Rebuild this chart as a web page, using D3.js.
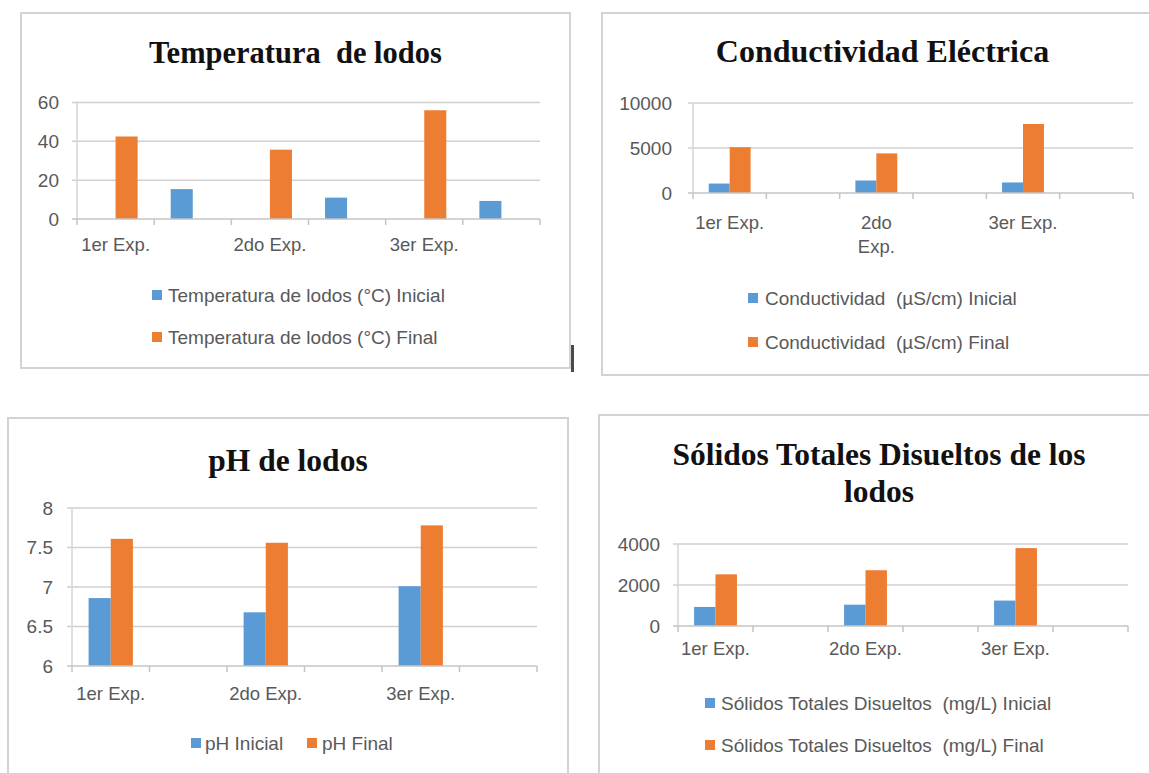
<!DOCTYPE html>
<html>
<head>
<meta charset="utf-8">
<script src="https://cdn.jsdelivr.net/npm/d3@7"></script>
<style>
  html, body { margin: 0; padding: 0; background: #fff; }
  svg { display: block; }
  .pre { white-space: pre; }
</style>
</head>
<body>
<svg id="chart" width="1149" height="773"></svg>
<script>
// Experiment categories: each experiment takes two category slots on the axis
const expLabels = ["1er Exp.", "", "2do Exp.", "", "3er Exp.", ""];

// Temperatura de lodos (°C)
const tempSeries = ["Temperatura de lodos (°C) Inicial", "Temperatura de lodos (°C) Final"];
const tempInicial = [null, 15.4, null, 11.0, null, 9.3];
const tempFinal = [42.5, null, 35.7, null, 56.0, null];
const tempTicks = [0, 20, 40, 60];

// Conductividad eléctrica (µS/cm)
const condSeries = ["Conductividad  (µS/cm) Inicial", "Conductividad  (µS/cm) Final"];
const condInicial = [1050, null, 1390, null, 1170, null];
const condFinal = [5090, null, 4400, null, 7670, null];
const condTicks = [0, 5000, 10000];

// pH de lodos
const phSeries = ["pH Inicial", "pH Final"];
const phInicial = [6.86, null, 6.68, null, 7.01, null];
const phFinal = [7.61, null, 7.56, null, 7.78, null];
const phTicks = [6, 6.5, 7, 7.5, 8];

// Sólidos totales disueltos (mg/L)
const sdtSeries = ["Sólidos Totales Disueltos  (mg/L) Inicial", "Sólidos Totales Disueltos  (mg/L) Final"];
const sdtInicial = [930, null, 1040, null, 1240, null];
const sdtFinal = [2520, null, 2720, null, 3800, null];
const sdtTicks = [0, 2000, 4000];

const COLORS = ["#5b9bd5", "#ed7d31"];
const SANS = "'Liberation Sans', Arial, sans-serif";
const SERIF = "'Liberation Serif', 'Times New Roman', serif";
const TEXT_GRAY = "#595959";

const svg = d3.select("#chart");

function drawPanel(cfg) {
  const g = svg.append("g");

  // frame
  g.append("rect")
    .attr("x", cfg.frame[0]).attr("y", cfg.frame[1])
    .attr("width", cfg.frame[2]).attr("height", cfg.frame[3])
    .attr("fill", "#fff").attr("stroke", "#d3d3d3").attr("stroke-width", 2);

  // title
  cfg.title.lines.forEach((line, i) => {
    g.append("text")
      .attr("class", "pre")
      .attr("x", cfg.title.x).attr("y", cfg.title.y + i * cfg.title.lh)
      .attr("text-anchor", "middle")
      .attr("font-family", SERIF).attr("font-weight", "bold")
      .attr("font-size", cfg.title.size).attr("fill", "#111")
      .text(line);
  });

  const p = cfg.plot;
  const x0 = d3.scaleBand().domain(d3.range(cfg.labels.length))
    .range([p.left, p.right]).paddingInner(0).paddingOuter(0);
  const x1 = d3.scaleBand().domain([0, 1])
    .range([0, x0.bandwidth()]).paddingInner(0).paddingOuter(0.75);
  const y = d3.scaleLinear().domain(cfg.domain).range([p.bottom, p.top]);

  // horizontal gridlines with short outer tick marks
  g.append("g").selectAll("line").data(cfg.ticks.filter(t => t !== cfg.domain[0])).join("line")
    .attr("x1", p.left - 5).attr("x2", p.right)
    .attr("y1", d => y(d)).attr("y2", d => y(d))
    .attr("stroke", "#d0d0d0").attr("stroke-width", 1.5);

  // vertical axis line
  g.append("line")
    .attr("x1", p.left).attr("x2", p.left)
    .attr("y1", y(cfg.domain[1])).attr("y2", y(cfg.domain[0]))
    .attr("stroke", "#d6d6d6").attr("stroke-width", 1.5);

  // value axis labels
  const yAxis = d3.axisLeft(y).tickValues(cfg.ticks).tickSize(0).tickPadding(0)
    .tickFormat(d3.format("~g"));
  const ya = g.append("g").attr("transform", `translate(${cfg.yLabelX},0)`).call(yAxis);
  ya.select(".domain").remove();
  ya.selectAll("text")
    .attr("font-family", SANS).attr("font-size", 19).attr("fill", TEXT_GRAY);

  // bars
  const series = [cfg.inicial, cfg.final];
  series.forEach((vals, s) => {
    g.append("g").selectAll("rect")
      .data(vals.map((v, i) => ({ i, v })).filter(d => d.v != null))
      .join("rect")
      .attr("x", d => x0(d.i) + x1(s))
      .attr("width", x1.bandwidth())
      .attr("y", d => y(d.v))
      .attr("height", d => y(cfg.domain[0]) - y(d.v))
      .attr("fill", COLORS[s]);
  });

  // category axis line and boundary ticks
  g.append("line")
    .attr("x1", p.left - 5).attr("x2", p.right)
    .attr("y1", p.bottom).attr("y2", p.bottom)
    .attr("stroke", "#c4c4c4").attr("stroke-width", 1.5);
  const bounds = x0.domain().map(i => x0(i)).concat([x0.range()[1]]);
  g.append("g").selectAll("line").data(bounds).join("line")
    .attr("x1", d => d).attr("x2", d => d)
    .attr("y1", p.bottom).attr("y2", p.bottom + 6)
    .attr("stroke", "#c4c4c4").attr("stroke-width", 1.5);

  // category labels (wrapped when wider than the slot)
  const labs = g.append("g").selectAll("text")
    .data(cfg.labels.map((t, i) => ({ t, i })).filter(d => d.t))
    .join("text")
    .attr("x", d => x0(d.i) + x0.bandwidth() / 2)
    .attr("y", cfg.catY)
    .attr("text-anchor", "middle")
    .attr("font-family", SANS).attr("font-size", 18.5).attr("fill", TEXT_GRAY)
    .text(d => d.t);
  if (cfg.wrap) {
    labs.each(function (d) {
      const el = d3.select(this);
      if (this.getComputedTextLength() > cfg.wrap) {
        const words = d.t.split(" ");
        el.text(null);
        words.forEach((w, k) => {
          el.append("tspan")
            .attr("x", x0(d.i) + x0.bandwidth() / 2)
            .attr("dy", k === 0 ? 0 : cfg.wrapLH)
            .text(w);
        });
      }
    });
  }

  // legend
  cfg.legend.forEach(item => {
    g.append("rect")
      .attr("x", item.x).attr("y", item.y - 5)
      .attr("width", 10).attr("height", 10)
      .attr("fill", COLORS[item.s]);
    g.append("text")
      .attr("class", "pre")
      .attr("x", item.x + item.gap).attr("y", item.y)
      .attr("dominant-baseline", "central")
      .attr("font-family", SANS).attr("font-size", 19).attr("fill", TEXT_GRAY)
      .text(cfg.series[item.s]);
  });
}

drawPanel({
  frame: [21, 13, 549, 355],
  title: { lines: ["Temperatura  de lodos"], x: 295.5, y: 63, size: 30.5, lh: 0 },
  plot: { left: 77, right: 540, top: 102.5, bottom: 219 },
  domain: [0, 60], ticks: tempTicks, yLabelX: 59,
  labels: expLabels, inicial: tempInicial, final: tempFinal, series: tempSeries,
  catY: 251,
  legend: [{ s: 0, x: 152, y: 295, gap: 16 }, { s: 1, x: 152, y: 337, gap: 16 }]
});

drawPanel({
  frame: [602, 13, 600, 362],
  title: { lines: ["Conductividad Eléctrica"], x: 882.5, y: 62, size: 32, lh: 0 },
  plot: { left: 693, right: 1133, top: 103, bottom: 193 },
  domain: [0, 10000], ticks: condTicks, yLabelX: 672,
  labels: expLabels, inicial: condInicial, final: condFinal, series: condSeries,
  catY: 229, wrap: 71, wrapLH: 24,
  legend: [{ s: 0, x: 748, y: 298, gap: 17 }, { s: 1, x: 748, y: 342, gap: 17 }]
});

drawPanel({
  frame: [8, 418, 560, 420],
  title: { lines: ["pH de lodos"], x: 288, y: 471, size: 31.5, lh: 0 },
  plot: { left: 72, right: 537, top: 508, bottom: 666 },
  domain: [6, 8], ticks: phTicks, yLabelX: 53,
  labels: expLabels, inicial: phInicial, final: phFinal, series: phSeries,
  catY: 700,
  legend: [{ s: 0, x: 191, y: 743, gap: 14 }, { s: 1, x: 307, y: 743, gap: 15 }]
});

drawPanel({
  frame: [599, 415, 600, 420],
  title: { lines: ["Sólidos Totales Disueltos de los", "lodos"], x: 879, y: 465, size: 31.5, lh: 37 },
  plot: { left: 678, right: 1128, top: 544, bottom: 626 },
  domain: [0, 4000], ticks: sdtTicks, yLabelX: 660,
  labels: expLabels, inicial: sdtInicial, final: sdtFinal, series: sdtSeries,
  catY: 655,
  legend: [{ s: 0, x: 705, y: 703, gap: 16 }, { s: 1, x: 705, y: 745, gap: 16 }]
});

// small dark marker beside the first frame's lower right corner
svg.append("rect").attr("x", 571).attr("y", 345).attr("width", 3).attr("height", 27)
  .attr("fill", "#4a4a4a");
</script>
</body>
</html>
